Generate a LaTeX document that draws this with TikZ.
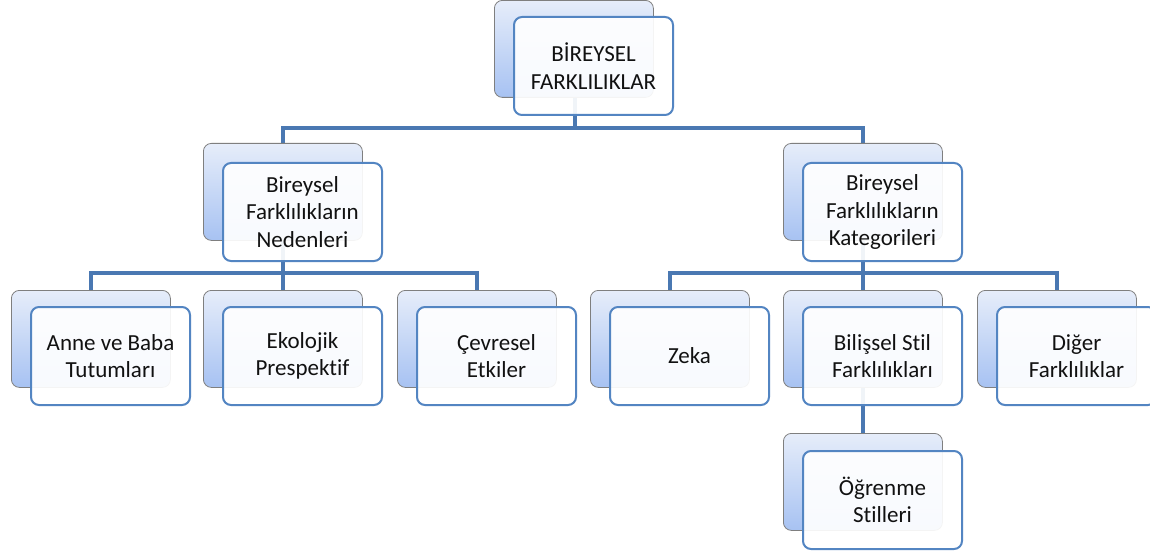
\documentclass[tikz,border=0pt]{standalone}
\usepackage{fontspec}
\setmainfont{Carlito}[Ligatures=NoCommon]
\definecolor{bbtop}{HTML}{E6EDFA}
\definecolor{bbbot}{HTML}{A7C2F2}
\definecolor{bbdraw}{HTML}{7F7F7F}
\definecolor{fbdraw}{HTML}{5385C2}
\definecolor{linkc}{HTML}{4A78B2}
\definecolor{txt}{HTML}{111111}
\begin{document}
\begin{tikzpicture}[x=1pt,y=-1pt,
  backbox/.style={draw=bbdraw, line width=0.8pt, rounded corners=8pt,
    top color=bbtop, bottom color=bbbot, minimum width=159pt, minimum height=97pt,
    anchor=north west, inner sep=0pt},
  frontbox/.style={draw=fbdraw, line width=2pt, rounded corners=8pt,
    fill=white, fill opacity=0.92, text opacity=1, text=txt,
    minimum width=159pt, minimum height=98pt, anchor=north west,
    align=center, inner sep=0pt, font=\fontsize{23}{27.5}\selectfont},
  link/.style={draw=linkc, line width=4pt}]
\useasboundingbox (0,0) rectangle (1150,556);
\fill[white] (0,0) rectangle (1150,556);

% connectors (drawn first, behind the boxes)
\coordinate (c0) at (574.5,128);
\coordinate (cl) at (282.5,273);
\coordinate (cr) at (862.5,273);
\path[link] (574.5,97) -- (c0);
\path[link] (c0) -| (282.5,143);
\path[link] (c0) -| (862.5,143);
\path[link] (282.5,240) -- (cl);
\path[link] (cl) -| (91,290);
\path[link] (cl) -- (282.5,290);
\path[link] (cl) -| (477,290);
\path[link] (862.5,240) -- (cr);
\path[link] (cr) -| (669.5,290);
\path[link] (cr) -- (862.5,290);
\path[link] (cr) -| (1056.5,290);
\path[link] (862.5,387) -- (862.5,433);

% top
\node[backbox] (b0) at (494,0) {};
\node[frontbox] (f0) at (513,16) {BİREYSEL\\FARKLILIKLAR};
% level 2
\node[backbox] (b1) at (203,143) {};
\node[frontbox] (f1) at (222,162) {Bireysel\\Farklılıkların\\Nedenleri};
\node[backbox] (b2) at (783,143) {};
\node[frontbox] (f2) at (802,162) {Bireysel\\Farklılıkların\\Kategorileri};
% level 3
\node[backbox] (b3) at (11,290) {};
\node[frontbox] (f3) at (30,306) {Anne ve Baba\\Tutumları};
\node[backbox] (b4) at (203,290) {};
\node[frontbox] (f4) at (222,306) {Ekolojik\\Prespektif};
\node[backbox] (b5) at (397,290) {};
\node[frontbox] (f5) at (416,306) {Çevresel\\Etkiler};
\node[backbox] (b6) at (590,290) {};
\node[frontbox] (f6) at (609,306) {Zeka};
\node[backbox] (b7) at (783,290) {};
\node[frontbox] (f7) at (802,306) {Bilişsel Stil\\Farklılıkları};
\node[backbox] (b8) at (977,290) {};
\node[frontbox] (f8) at (996,306) {Diğer\\Farklılıklar};
% level 4
\node[backbox] (b9) at (783,433) {};
\node[frontbox] (f9) at (802,450) {Öğrenme\\Stilleri};
\end{tikzpicture}
\end{document}
